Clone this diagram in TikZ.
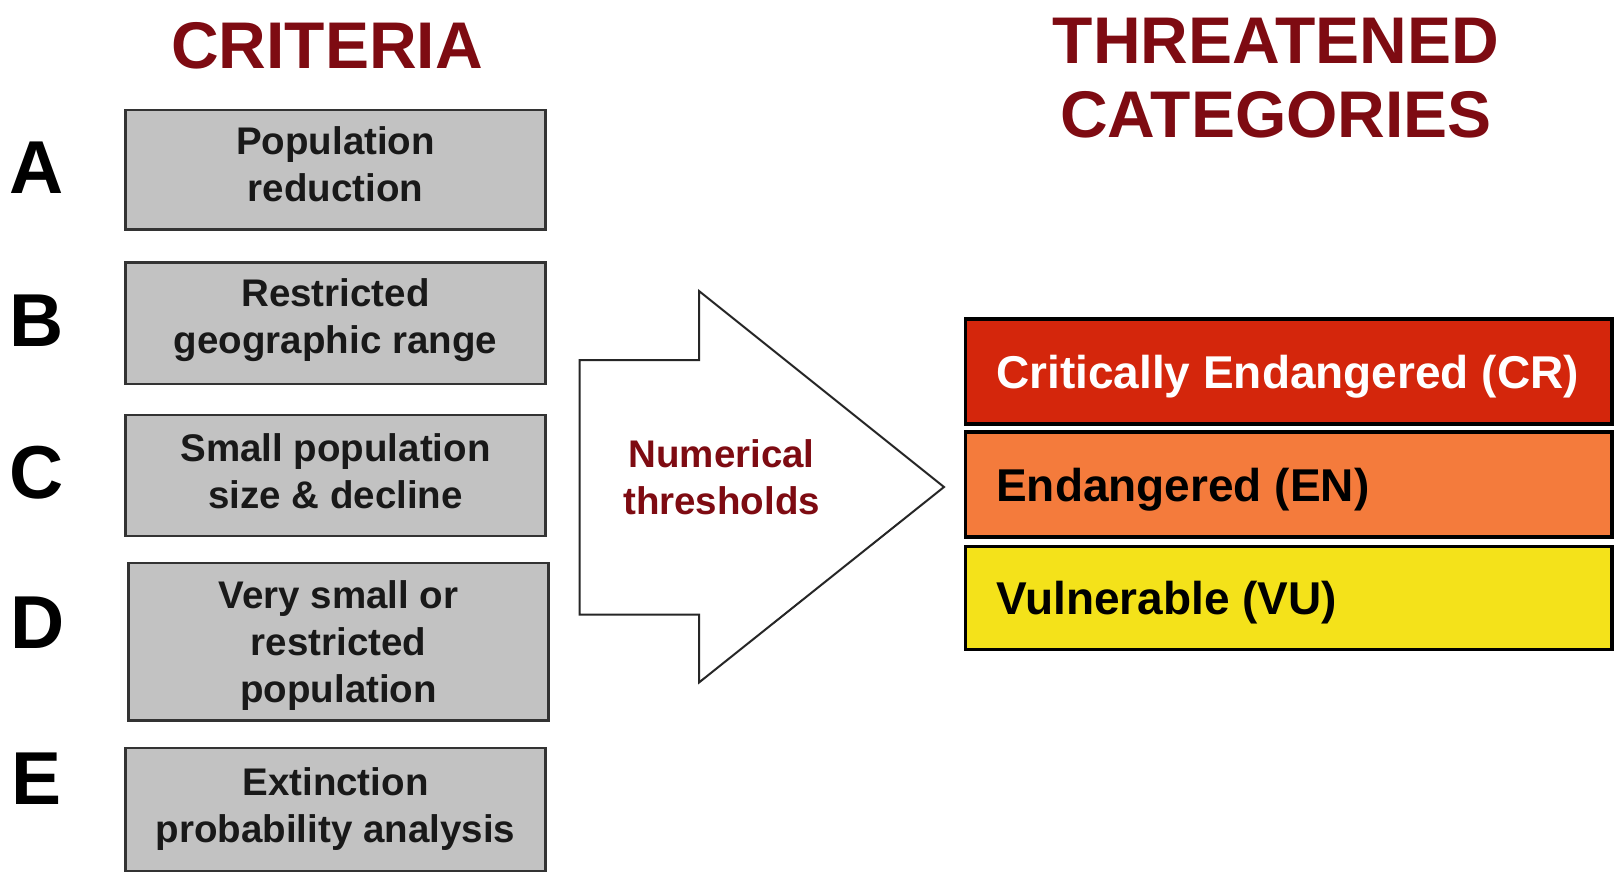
\documentclass[tikz,border=0pt]{standalone}
\usepackage{fontspec}
\setmainfont{Liberation Sans}
\definecolor{titlered}{HTML}{7E0B12}
\definecolor{boxgray}{HTML}{C2C2C2}
\definecolor{boxline}{HTML}{333333}
\definecolor{crred}{HTML}{D4260C}
\definecolor{enorange}{HTML}{F47B3C}
\definecolor{vuyellow}{HTML}{F4E21A}
\begin{document}
\begin{tikzpicture}[x=1pt,y=-1pt,
  crit/.style={draw=boxline, line width=2.8pt, fill=boxgray, minimum width=420pt, inner sep=0pt},
  crittext/.style={inner sep=0pt, align=center, font=\fontsize{38.5}{47}\selectfont\bfseries, text=black!90},
  letter/.style={inner sep=0pt, font=\fontsize{75}{75}\selectfont\bfseries},
  title/.style={inner sep=0pt, align=center, text=titlered, font=\fontsize{66}{74}\selectfont\bfseries},
  cat/.style={draw=black, line width=3.5pt, minimum width=646.5pt, inner sep=0pt},
  cattext/.style={anchor=base west, inner sep=0pt, font=\fontsize{46}{50}\selectfont\bfseries}]
\useasboundingbox (0,0) rectangle (1614,873);
\fill[white] (0,0) rectangle (1614,873);

% titles
\node[title] (tcrit) at (327,46) {CRITERIA};
\node[title] (tthr) at (1276,78) {THREATENED\\CATEGORIES};

% criteria boxes
\node[crit, minimum height=119.5pt] (bA) at (335.5,169.75) {};
\node[crit, minimum height=121.5pt] (bB) at (335.5,323.25) {};
\node[crit, minimum height=121pt] (bC) at (335.5,475.5) {};
\node[crit, minimum height=157.5pt] (bD) at (338.6,641.75) {};
\node[crit, minimum height=123pt] (bE) at (335.5,809.5) {};
\node[crittext] (tA) at ([yshift=6pt]bA.center) {Population\\reduction};
\node[crittext] (tB) at ([yshift=3pt]bB.center) {Restricted\\geographic range};
\node[crittext] (tC) at ([yshift=4pt]bC.center) {Small population\\size \& decline};
\node[crittext] (tD) at ([yshift=-4pt]bD.center) {Very small or\\restricted\\population};
\node[crittext] (tE) at (bE.center) {Extinction\\probability analysis};

% letters
\node[letter] (lA) at (37,168) {A};
\node[letter] (lB) at (37,321) {B};
\node[letter] (lC) at (37,473) {C};
\node[letter] (lD) at (38,623) {D};
\node[letter] (lE) at (37,779) {E};

% big arrow
\draw[line width=2pt, draw=black!85, fill=white, line join=miter]
  (579.5,360) -- (699,360) -- (699,291) -- (944,487) -- (699,682.5) -- (699,614.5) -- (579.5,614.5) -- cycle;
\node[inner sep=0pt, align=center, text=titlered, font=\fontsize{38.5}{47}\selectfont\bfseries] (num) at (721.6,477.5) {Numerical\\thresholds};

% categories
\node[cat, fill=crred, minimum height=105pt] (cr) at (1288.75,371.5) {};
\node[cat, fill=enorange, minimum height=105pt] (en) at (1288.75,484.5) {};
\node[cat, fill=vuyellow, minimum height=103pt] (vu) at (1288.75,598) {};
\node[cattext, text=white] (crt) at (996,388) {Critically Endangered (CR)};
\node[cattext, text=black] (ent) at (996,501) {Endangered (EN)};
\node[cattext, text=black] (vut) at (996,614.5) {Vulnerable (VU)};
\end{tikzpicture}
\end{document}
